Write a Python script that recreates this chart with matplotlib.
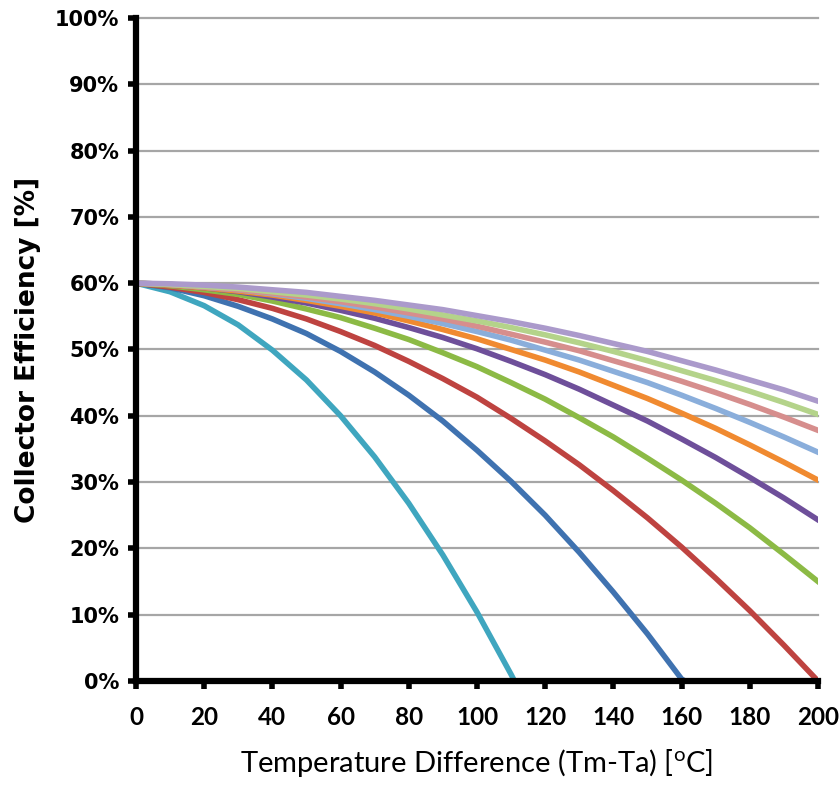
import matplotlib
matplotlib.use('Agg')
import matplotlib.pyplot as plt
from matplotlib.ticker import FuncFormatter

# temperature difference (Tm-Ta) in degC
x = [0, 10, 20, 30, 40, 50, 60, 70, 80, 90, 100, 110, 120, 130, 140, 150, 160, 170, 180, 190, 200]

# collector efficiency [%], one list per curve
cyan_x = [0, 10, 20, 30, 40, 50, 60, 70, 80, 90, 100, 110, 111]
cyan = [60, 58.7, 56.6, 53.7, 49.9, 45.4, 40.0, 33.8, 26.8, 19.0, 10.4, 1.0, 0]
blue_x = [0, 10, 20, 30, 40, 50, 60, 70, 80, 90, 100, 110, 120, 130, 140, 150, 160, 161]
blue = [60, 59.3, 58.1, 56.5, 54.6, 52.4, 49.7, 46.6, 43.1, 39.2, 34.8, 30.1, 25.0, 19.4, 13.4, 7.1, 0.3, 0]
red = [60, 59.4, 58.6, 57.5, 56.2, 54.6, 52.7, 50.6, 48.2, 45.6, 42.8, 39.6, 36.2, 32.6, 28.7, 24.6, 20.2, 15.5, 10.6, 5.4, 0]
green = [60, 59.6, 59.0, 58.3, 57.3, 56.1, 54.8, 53.2, 51.5, 49.5, 47.4, 45.0, 42.5, 39.7, 36.8, 33.6, 30.3, 26.8, 23.1, 19.1, 15.0]
purple = [60, 59.7, 59.3, 58.7, 57.9, 57.0, 55.9, 54.7, 53.3, 51.8, 50.1, 48.2, 46.2, 44.0, 41.6, 39.2, 36.5, 33.7, 30.7, 27.6, 24.3]
orange = [60, 59.7, 59.3, 58.8, 58.2, 57.4, 56.5, 55.5, 54.3, 53.0, 51.6, 50.0, 48.4, 46.6, 44.6, 42.6, 40.4, 38.1, 35.6, 33.0, 30.3]
lightblue = [60, 59.8, 59.4, 59.0, 58.4, 57.7, 56.9, 56.0, 55.0, 53.9, 52.7, 51.4, 49.9, 48.4, 46.7, 45.0, 43.1, 41.1, 39.0, 36.8, 34.5]
pink = [60, 59.8, 59.4, 59.0, 58.5, 57.9, 57.2, 56.4, 55.5, 54.6, 53.5, 52.3, 51.1, 49.8, 48.3, 46.8, 45.2, 43.5, 41.7, 39.8, 37.8]
lightgreen = [60, 59.8, 59.5, 59.2, 58.7, 58.2, 57.6, 56.9, 56.1, 55.2, 54.3, 53.3, 52.2, 51.0, 49.7, 48.3, 46.8, 45.3, 43.7, 42.0, 40.2]
lavender = [60, 59.9, 59.7, 59.4, 59.0, 58.6, 58.0, 57.4, 56.7, 56.0, 55.1, 54.2, 53.2, 52.1, 50.9, 49.7, 48.3, 46.9, 45.4, 43.9, 42.2]

xticks = [0, 20, 40, 60, 80, 100, 120, 140, 160, 180, 200]
yticks = [0, 10, 20, 30, 40, 50, 60, 70, 80, 90, 100]

fig = plt.figure(figsize=(8.39, 7.98), dpi=100)
ax = fig.add_axes([0.162, 0.1466, 0.813, 0.831])

# horizontal grid
for v in yticks[1:]:
    ax.axhline(v, color='#a6a6a6', lw=1.6, zorder=1, clip_on=False)

lw = 4.0
ax.plot(cyan_x, cyan, color='#3fa6bf', lw=lw, zorder=3)
ax.plot(blue_x, blue, color='#3f72b0', lw=lw, zorder=3)
ax.plot(x, red, color='#be4340', lw=lw, zorder=3)
ax.plot(x, green, color='#8cba45', lw=lw, zorder=3)
ax.plot(x, purple, color='#6e4f9a', lw=lw, zorder=3)
ax.plot(x, orange, color='#f08a30', lw=lw, zorder=3)
ax.plot(x, lightblue, color='#8aaedb', lw=lw, zorder=3)
ax.plot(x, pink, color='#d68e8d', lw=lw, zorder=3)
ax.plot(x, lightgreen, color='#b4d38a', lw=lw, zorder=3)
ax.plot(x, lavender, color='#ab9acb', lw=lw, zorder=3)

ax.set_xlim(0, 200)
ax.set_ylim(0, 100)
ax.set_xticks(xticks)
ax.set_yticks(yticks)
ax.yaxis.set_major_formatter(FuncFormatter(lambda v, p: '%d%%' % v))

for s in ['top', 'right']:
    ax.spines[s].set_visible(False)
for s in ['left', 'bottom']:
    ax.spines[s].set_linewidth(4.5)
    ax.spines[s].set_color('black')
    ax.spines[s].set_zorder(4)
ax.tick_params(axis='both', direction='out', length=6, width=4, color='black')

for lab in ax.get_yticklabels():
    lab.set_fontfamily('DejaVu Sans')
    lab.set_fontweight('bold')
    lab.set_fontsize(15)
for lab in ax.get_xticklabels():
    lab.set_fontfamily(['Lato', 'DejaVu Sans'])
    lab.set_fontweight('bold')
    lab.set_fontsize(17.5)
ax.tick_params(axis='x', pad=12)
ax.tick_params(axis='y', pad=6)

ax.set_ylabel('Collector Efficiency [%]', fontsize=19, fontweight='bold',
              family='DejaVu Sans', labelpad=10)
ax.set_xlabel(r'Temperature Difference (Tm-Ta) [$\mathregular{^{o}}$C]', fontsize=21,
              family=['Lato', 'DejaVu Sans'], labelpad=13)

fig.savefig('out.png', dpi=100)
